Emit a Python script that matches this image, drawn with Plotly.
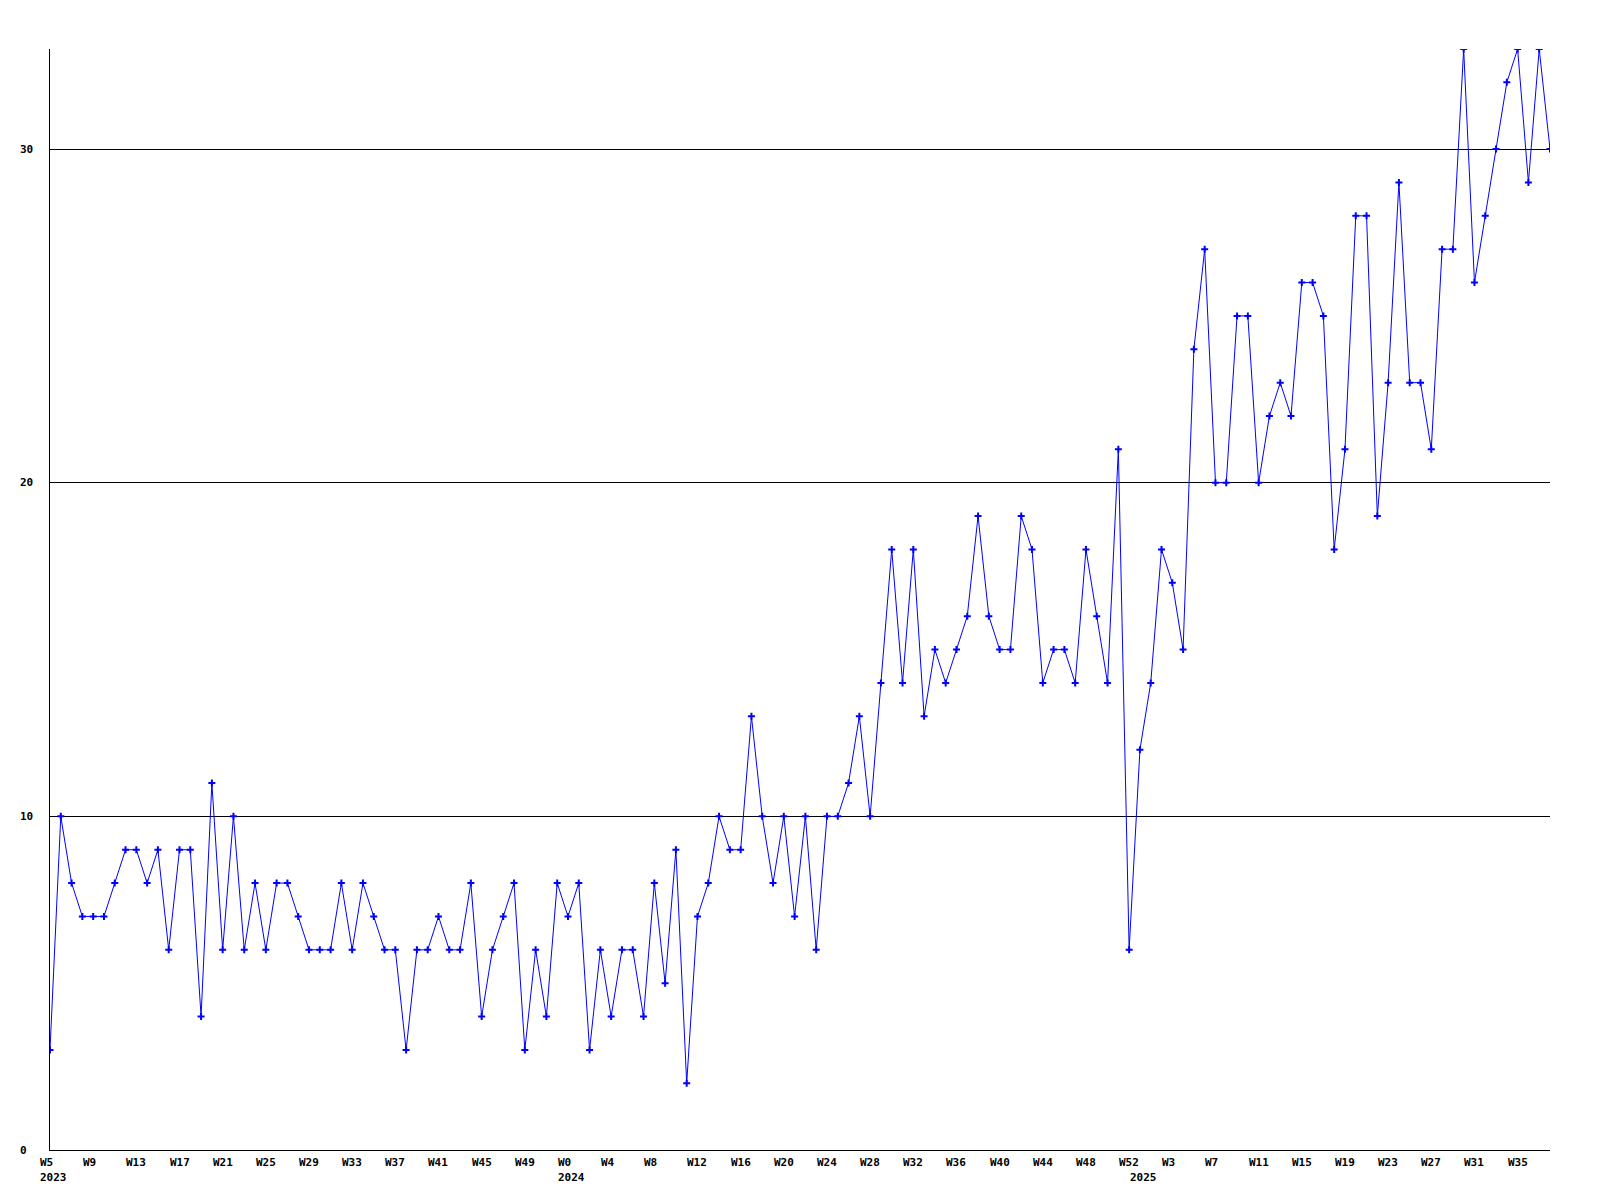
import plotly.graph_objects as go

# Weekly counts, 2023 W5 .. 2025 W38 (week numbers as the source prints them)
weeks_2023 = list(range(5, 53))
weeks_2024 = list(range(0, 53))
weeks_2025 = list(range(0, 39))

counts_2023 = [3, 10, 8, 7, 7, 7, 8, 9, 9, 8, 9, 6, 9, 9, 4, 11, 6, 10, 6, 8,
               6, 8, 8, 7, 6, 6, 6, 8, 6, 8, 7, 6, 6, 3, 6, 6, 7, 6, 6, 8,
               4, 6, 7, 8, 3, 6, 4, 8]
counts_2024 = [7, 8, 3, 6, 4, 6, 6, 4, 8, 5, 9, 2, 7, 8, 10, 9, 9, 13, 10, 8,
               10, 7, 10, 6, 10, 10, 11, 13, 10, 14, 18, 14, 18, 13, 15, 14, 15, 16, 19, 16,
               15, 15, 19, 18, 14, 15, 15, 14, 18, 16, 14, 21, 6]
counts_2025 = [12, 14, 18, 17, 15, 24, 27, 20, 20, 25, 25, 20, 22, 23, 22, 26, 26, 25, 18, 21,
               28, 28, 19, 23, 29, 23, 23, 21, 27, 27, 33, 26, 28, 30, 32, 33, 29, 33, 30]

y_ticks = [0, 10, 20, 30]
y_max = 33
tick_every = 4

years = [(2023, weeks_2023, counts_2023), (2024, weeks_2024, counts_2024), (2025, weeks_2025, counts_2025)]

categories = []
week_numbers = []
values = []
year_starts = []
for year, weeks, counts in years:
    year_starts.append((year, f"{year} W{weeks[0]}"))
    for week, count in zip(weeks, counts):
        categories.append(f"{year} W{week}")
        week_numbers.append(week)
        values.append(count)

FONT = dict(family="DejaVu Sans Mono", size=11, color="black", weight="bold")
BLUE = "#0000ff"

fig = go.Figure(
    go.Scatter(
        x=categories,
        y=values,
        mode="lines+markers",
        line=dict(color=BLUE, width=1),
        marker=dict(symbol="cross-thin", size=5, color=BLUE, line=dict(color=BLUE, width=2)),
        showlegend=False,
        hoverinfo="x+y",
    )
)

annotations = []
# week labels every 4th point, left-aligned a little before the point
for i in range(0, len(categories), tick_every):
    annotations.append(dict(
        x=categories[i], y=0, xref="x", yref="paper",
        text=f"W{week_numbers[i]}", showarrow=False,
        xanchor="left", yanchor="middle", xshift=-12, yshift=-12, font=FONT,
    ))
# year labels on a second row
for year, cat in year_starts:
    annotations.append(dict(
        x=cat, y=0, xref="x", yref="paper",
        text=str(year), showarrow=False,
        xanchor="left", yanchor="middle", xshift=-12, yshift=-27, font=FONT,
    ))
# y labels, left-aligned near the page edge
for v in y_ticks:
    annotations.append(dict(
        x=0, y=v, xref="paper", yref="y",
        text=str(v), showarrow=False,
        xanchor="left", yanchor="middle", xshift=-32, font=FONT,
    ))

# the html page puts the figure 8px in from the top-left corner
fig.update_layout(
    width=1592,
    height=1192,
    margin=dict(l=42, r=50, t=41, b=50),
    paper_bgcolor="white",
    plot_bgcolor="white",
    annotations=annotations,
    xaxis=dict(
        type="category",
        range=[0, len(categories) - 1],
        showgrid=False,
        zeroline=False,
        showline=True,
        linecolor="black",
        linewidth=1,
        showticklabels=False,
        ticks="",
    ),
    yaxis=dict(
        range=[0, y_max],
        tickvals=y_ticks[1:],
        showgrid=True,
        gridcolor="black",
        gridwidth=1,
        zeroline=False,
        showline=True,
        linecolor="black",
        linewidth=1,
        showticklabels=False,
        ticks="",
    ),
)

fig.write_html("out.html")
